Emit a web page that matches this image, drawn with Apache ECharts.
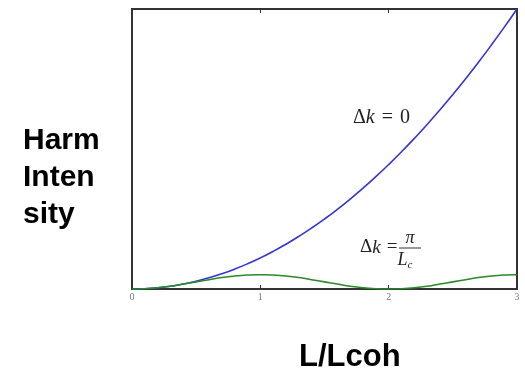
<!DOCTYPE html>
<html>
<head>
<meta charset="utf-8">
<script src="https://cdn.jsdelivr.net/npm/echarts@6/dist/echarts.min.js"></script>
<style>html,body{margin:0;padding:0;background:#fff}#c{width:525px;height:375px}</style>
</head>
<body>
<div id="c"></div>
<script>
var xValues = [0,0.1,0.2,0.3,0.4,0.5,0.6,0.7,0.8,0.9,1.0,1.1,1.2,1.3,1.4,1.5,1.6,1.7,1.8,1.9,2.0,2.1,2.2,2.3,2.4,2.5,2.6,2.7,2.8,2.9,3.0];
var matchedIntensity = [0,0.01,0.04,0.09,0.16,0.25,0.36,0.49,0.64,0.81,1.0,1.21,1.44,1.69,1.96,2.25,2.56,2.89,3.24,3.61,4.0,4.41,4.84,5.29,5.76,6.25,6.76,7.29,7.84,8.41,9.0];
var mismatchedIntensity = [0,0.01,0.04,0.09,0.16,0.23,0.30,0.37,0.42,0.45,0.46,0.45,0.42,0.37,0.30,0.23,0.16,0.09,0.04,0.01,0,0.01,0.04,0.09,0.16,0.23,0.30,0.37,0.42,0.45,0.46];
var xTicks = [0,1,2,3];
var yLabelText = 'Harm\nInten\nsity';
var xLabelText = 'L/Lcoh';

function pairs(xs, ys){ return xs.map(function(x,i){ return [x, ys[i]]; }); }

var serif = {fontFamily:'Liberation Serif',fontSize:20,fill:'#222'};
var chart = echarts.init(document.getElementById('c'), null, {renderer:'canvas'});
chart.setOption({
  animation:false,
  backgroundColor:'#fff',
  grid:{left:132,right:8,top:9,bottom:86,show:true,borderColor:'#333',borderWidth:2,backgroundColor:'transparent'},
  xAxis:[{
    type:'value',min:xTicks[0],max:xTicks[xTicks.length-1],interval:1,position:'bottom',
    axisLine:{show:false},
    axisTick:{show:true,inside:true,length:4,lineStyle:{color:'#333',width:1}},
    axisLabel:{show:true,margin:3,fontFamily:'Liberation Serif',fontSize:10,color:'#777'},
    splitLine:{show:false}
  },{
    type:'value',min:xTicks[0],max:xTicks[xTicks.length-1],interval:1,position:'top',
    axisLine:{show:false},
    axisTick:{show:true,inside:true,length:4,lineStyle:{color:'#333',width:1}},
    axisLabel:{show:false},
    splitLine:{show:false}
  }],
  yAxis:{type:'value',min:0,max:9,axisLine:{show:false},axisTick:{show:false},axisLabel:{show:false},splitLine:{show:false}},
  series:[{
    type:'line',data:pairs(xValues,matchedIntensity),showSymbol:false,smooth:true,
    lineStyle:{color:'#3434d2',width:1.6},z:3
  },{
    type:'line',data:pairs(xValues,mismatchedIntensity),showSymbol:false,smooth:true,
    lineStyle:{color:'#2a8a2a',width:1.6},z:4
  }],
  graphic:[
    {type:'text',left:23,top:122,style:{text:yLabelText,fontFamily:'Liberation Sans',fontWeight:'bold',fontSize:30,lineHeight:37,fill:'#000'}},
    {type:'text',left:299,top:342,style:{text:xLabelText,fontFamily:'Liberation Sans',fontWeight:'bold',fontSize:31,fill:'#000'}},
    {type:'text',left:353,top:108,style:{
      text:'{r|Δ}{i|k}{s|=}{r|0}',
      rich:{r:serif,i:{fontFamily:'Liberation Serif',fontStyle:'italic',fontSize:20,fill:'#222'},s:{fontFamily:'Liberation Serif',fontSize:20,fill:'#222',padding:[0,7,0,7]}}
    }},
    {type:'text',left:360,top:238,style:{
      text:'{r|Δ}{i|k}{s|=}',
      rich:{r:{fontFamily:'Liberation Serif',fontSize:19,fill:'#222'},i:{fontFamily:'Liberation Serif',fontStyle:'italic',fontSize:19,fill:'#222'},s:{fontFamily:'Liberation Serif',fontSize:19,fill:'#222',padding:[0,0,0,6]}}
    }},
    {type:'text',x:410,y:238,style:{text:'π',fontFamily:'Liberation Serif',fontStyle:'italic',fontSize:18,fill:'#222',align:'center',verticalAlign:'middle'}},
    {type:'line',shape:{x1:399,y1:248,x2:421,y2:248},style:{stroke:'#333',lineWidth:1}},
    {type:'text',x:405,y:260,style:{
      text:'{i|L}{s|c}',align:'center',verticalAlign:'middle',
      rich:{i:{fontFamily:'Liberation Serif',fontStyle:'italic',fontSize:18,fill:'#222'},s:{fontFamily:'Liberation Serif',fontStyle:'italic',fontSize:11,fill:'#222',padding:[10,0,0,0]}}
    }}
  ]
});
</script>
</body>
</html>
